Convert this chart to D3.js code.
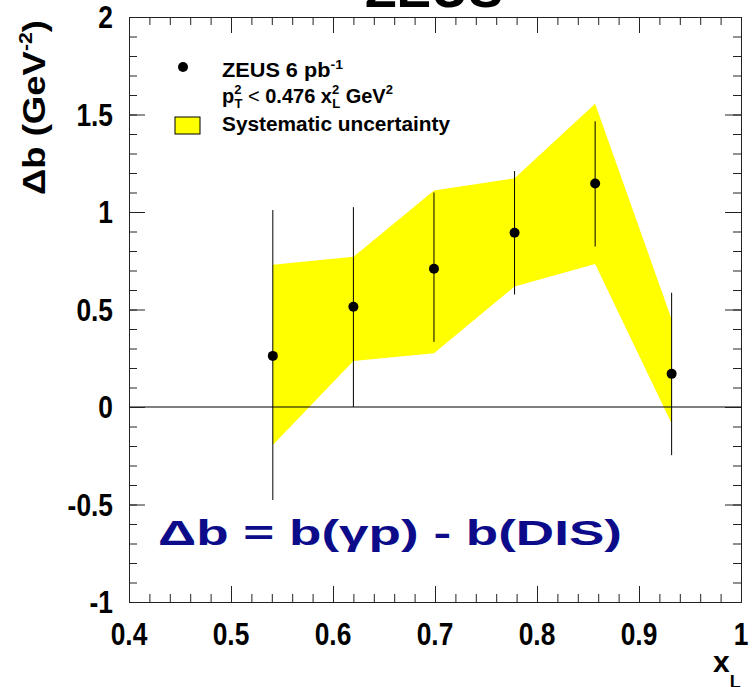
<!DOCTYPE html>
<html>
<head>
<meta charset="utf-8">
<script src="https://cdn.jsdelivr.net/npm/d3@7"></script>
<style>
  html, body { margin: 0; padding: 0; background: #fff; }
  svg { display: block; }
  text { font-family: "Liberation Sans", Arial, sans-serif; font-weight: bold; }
</style>
</head>
<body>
<div id="app"></div>
<script>
// measured values
const xl     = [0.541, 0.620, 0.699, 0.778, 0.857, 0.932];
const db     = [0.262, 0.514, 0.709, 0.894, 1.146, 0.170];
const statHi = [1.010, 1.025, 1.100, 1.210, 1.465, 0.586];
const statLo = [-0.477, 0.000, 0.334, 0.577, 0.823, -0.247];
const sysHi  = [0.730, 0.770, 1.110, 1.173, 1.555, 0.450];
const sysLo  = [-0.195, 0.236, 0.276, 0.618, 0.733, -0.084];

const xTickLabels = ['0.4', '0.5', '0.6', '0.7', '0.8', '0.9', '1'];
const yTickLabels = ['-1', '-0.5', '0', '0.5', '1', '1.5', '2'];

const width = 752, height = 687;
const frame = { left: 129, right: 741, top: 17, bottom: 602 };

const x = d3.scaleLinear().domain([0.4, 1]).range([frame.left, frame.right]);
const y = d3.scaleLinear().domain([-1, 2]).range([frame.bottom, frame.top]);

const svg = d3.select('#app').append('svg')
  .attr('width', width)
  .attr('height', height);

// systematic band
const band = d3.area()
  .x((d, i) => x(xl[i]))
  .y0((d, i) => y(sysLo[i]))
  .y1((d, i) => y(sysHi[i]));

svg.append('path')
  .datum(xl)
  .attr('d', band)
  .attr('fill', '#ffff00');

// zero line
svg.append('line')
  .attr('x1', frame.left).attr('x2', frame.right)
  .attr('y1', y(0)).attr('y2', y(0))
  .attr('stroke', '#000').attr('stroke-width', 1);

// error bars and points
svg.selectAll('line.err')
  .data(xl)
  .enter().append('line')
  .attr('class', 'err')
  .attr('x1', d => x(d)).attr('x2', d => x(d))
  .attr('y1', (d, i) => y(statLo[i]))
  .attr('y2', (d, i) => y(statHi[i]))
  .attr('stroke', '#000').attr('stroke-width', 1);

svg.selectAll('circle.pt')
  .data(xl)
  .enter().append('circle')
  .attr('class', 'pt')
  .attr('cx', d => x(d))
  .attr('cy', (d, i) => y(db[i]))
  .attr('r', 5)
  .attr('fill', '#000');

// axes: major + minor ticks on all four sides
const xMajor = d3.range(0.4, 1.0001, 0.1);
const xMinor = d3.range(0.4, 1.0001, 0.02);
const yMajor = d3.range(-1, 2.0001, 0.5);
const yMinor = d3.range(-1, 2.0001, 0.1);

const tickCol = '#222';
function drawAxis(axis, tx, ty) {
  const g = svg.append('g')
    .attr('transform', `translate(${tx},${ty})`)
    .call(axis);
  g.selectAll('text').remove();
  g.selectAll('line, path').attr('stroke', tickCol);
  return g;
}

drawAxis(d3.axisBottom(x).tickValues(xMinor).tickSizeInner(-8).tickSizeOuter(0), 0, frame.bottom);
drawAxis(d3.axisBottom(x).tickValues(xMajor).tickSizeInner(-16).tickSizeOuter(0), 0, frame.bottom);
drawAxis(d3.axisTop(x).tickValues(xMinor).tickSizeInner(-8).tickSizeOuter(0), 0, frame.top);
drawAxis(d3.axisTop(x).tickValues(xMajor).tickSizeInner(-16).tickSizeOuter(0), 0, frame.top);
drawAxis(d3.axisLeft(y).tickValues(yMinor).tickSizeInner(-8).tickSizeOuter(0), frame.left, 0);
drawAxis(d3.axisLeft(y).tickValues(yMajor).tickSizeInner(-16).tickSizeOuter(0), frame.left, 0);
drawAxis(d3.axisRight(y).tickValues(yMinor).tickSizeInner(-8).tickSizeOuter(0), frame.right, 0);
drawAxis(d3.axisRight(y).tickValues(yMajor).tickSizeInner(-16).tickSizeOuter(0), frame.right, 0);

// tick labels (condensed bold)
const labelSize = 31, squeeze = 0.85;
svg.selectAll('text.xlab')
  .data(xTickLabels)
  .enter().append('text')
  .attr('class', 'xlab')
  .attr('transform', d => `translate(${x(+d)},645) scale(${squeeze},1)`)
  .attr('text-anchor', 'middle')
  .attr('font-size', labelSize)
  .text(d => d);

svg.selectAll('text.ylab')
  .data(yTickLabels)
  .enter().append('text')
  .attr('class', 'ylab')
  .attr('transform', d => `translate(113,${y(+d) + 11}) scale(${squeeze},1)`)
  .attr('text-anchor', 'end')
  .attr('font-size', labelSize)
  .text(d => d);

// axis titles
const yTitle = svg.append('text')
  .attr('transform', 'translate(45,20) rotate(-90)')
  .attr('text-anchor', 'end')
  .attr('font-size', 31)
  .attr('textLength', 175)
  .attr('lengthAdjust', 'spacingAndGlyphs');
yTitle.append('tspan').text('Δb (GeV');
yTitle.append('tspan').attr('font-size', 18).attr('dy', -13).text('-2');
yTitle.append('tspan').attr('dy', 13).text(')');

const xTitle = svg.append('text')
  .attr('x', 713).attr('y', 672)
  .attr('font-size', 30);
xTitle.append('tspan').text('x');
xTitle.append('tspan').attr('font-size', 18).attr('dy', 16).text('L');

// clipped title
svg.append('text')
  .attr('x', 365).attr('y', 7)
  .attr('font-size', 52)
  .attr('textLength', 138)
  .attr('lengthAdjust', 'spacingAndGlyphs')
  .text('ZEUS');

// legend
const lfs = 20, lsub = 13;
svg.append('circle').attr('cx', 183).attr('cy', 67).attr('r', 5).attr('fill', '#000');
const l1 = svg.append('text').attr('x', 222).attr('y', 77).attr('font-size', lfs)
  .attr('textLength', 121).attr('lengthAdjust', 'spacingAndGlyphs');
l1.append('tspan').text('ZEUS 6 pb');
l1.append('tspan').attr('font-size', lsub).attr('dy', -8).text('-1');

const l2 = svg.append('text').attr('x', 222).attr('y', 103).attr('font-size', lfs);
l2.append('tspan').text('p');
l2.append('tspan').attr('font-size', lsub).attr('dy', -9).text('2');
l2.append('tspan').attr('font-size', lsub).attr('dx', -7).attr('dy', 14).text('T');
l2.append('tspan').attr('dy', -5).attr('font-weight', 'normal').text(' < ');
l2.append('tspan').text('0.476 x');
l2.append('tspan').attr('font-size', lsub).attr('dy', -9).text('2');
l2.append('tspan').attr('font-size', lsub).attr('dx', -7).attr('dy', 14).text('L');
l2.append('tspan').attr('dy', -5).text(' GeV');
l2.append('tspan').attr('font-size', lsub).attr('dy', -9).text('2');

svg.append('rect')
  .attr('x', 175).attr('y', 117).attr('width', 25).attr('height', 17)
  .attr('fill', '#ffff00').attr('stroke', '#000').attr('stroke-width', 1);
svg.append('text').attr('x', 222).attr('y', 131).attr('font-size', lfs)
  .attr('textLength', 228).attr('lengthAdjust', 'spacingAndGlyphs')
  .text('Systematic uncertainty');

// formula
svg.append('text')
  .attr('x', 158).attr('y', 545)
  .attr('font-family', '"DejaVu Sans", sans-serif')
  .attr('font-size', 35)
  .attr('fill', '#0c0c8a')
  .attr('textLength', 464)
  .attr('lengthAdjust', 'spacingAndGlyphs')
  .text('Δb = b(γp) - b(DIS)');
</script>
</body>
</html>
